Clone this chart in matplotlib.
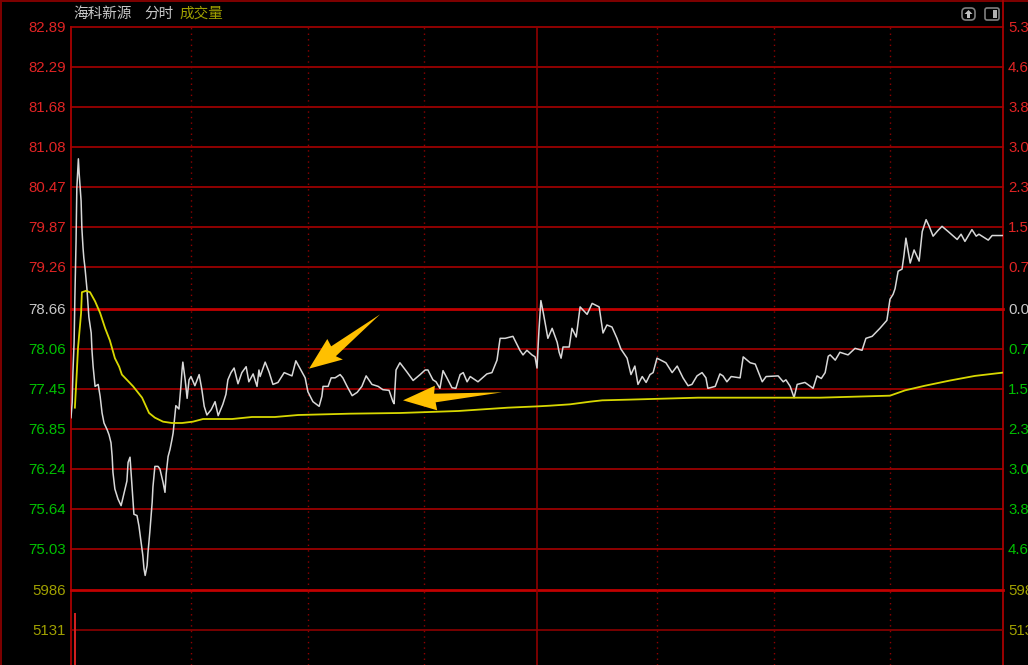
"""
Intraday price and average line with volume panel, dark terminal style
"""
import numpy as np
import matplotlib
matplotlib.use("Agg")
import matplotlib.pyplot as plt
from matplotlib.patches import FancyBboxPatch, Polygon, Rectangle

plt.rcParams["font.family"] = ["Liberation Sans", "Noto Sans CJK SC", "DejaVu Sans"]

# price axis rows, top to bottom
price_ticks = [82.89, 82.29, 81.68, 81.08, 80.47, 79.87, 79.26, 78.66,
               78.06, 77.45, 76.85, 76.24, 75.64, 75.03]
price_labels = ["82.89", "82.29", "81.68", "81.08", "80.47", "79.87", "79.26", "78.66",
                "78.06", "77.45", "76.85", "76.24", "75.64", "75.03"]
pct_labels = ["5.3", "4.6", "3.8", "3.0", "2.3", "1.5", "0.7", "0.0",
              "0.7", "1.5", "2.3", "3.0", "3.8", "4.6"]
price_floor = 74.41

vol_ticks = [5986, 5131]
vol_labels = ["5986", "5131"]
vol_labels_right = ["598", "513"]
vol_floor = 4383

half_hours = [31, 61, 91, 151, 181, 211]
noon = 120

price_min = [
    0.0, 0.3, 0.5, 0.8, 1.0, 1.3, 1.5, 1.9, 2.1, 2.6, 2.8, 3.1, 3.3, 3.6, 4.1, 4.6, 5.2, 5.4, 5.7, 6.2,
    7.0, 7.5, 8.0, 8.5, 9.3, 9.8, 10.3, 10.6, 10.8, 11.3, 12.1, 12.9, 13.6, 14.4, 14.7, 15.2, 15.7, 16.0, 16.2, 17.0,
    17.5, 18.0, 18.5, 18.8, 19.1, 19.6, 19.8, 20.3, 20.9, 21.1, 21.6, 22.4, 22.9, 23.7, 24.2, 24.5, 25.0, 25.5, 26.0, 26.3,
    26.8, 27.0, 27.8, 28.3, 28.6, 28.8, 29.4, 29.9, 30.4, 30.9, 31.9, 33.0, 33.7, 34.3, 35.0, 36.1, 37.1, 37.9, 39.1, 39.9,
    40.4, 41.2, 42.0, 43.0, 44.0, 45.1, 45.8, 46.9, 47.9, 48.4, 48.7, 50.0, 51.0, 52.0, 53.3, 54.9, 56.9, 57.9, 59.2, 60.3,
    61.0, 62.3, 63.9, 64.6, 64.9, 66.2, 67.0, 68.0, 69.3, 70.0, 71.1, 72.4, 73.7, 74.9, 76.0, 77.5, 79.1, 80.3, 81.9, 82.9,
    83.2, 83.7, 84.7, 86.5, 88.1, 89.9, 91.2, 91.9, 93.2, 94.0, 95.0, 95.8, 96.8, 98.1, 99.1, 100.2, 101.0, 102.0, 102.8, 104.8,
    107.1, 108.4, 109.7, 110.5, 111.8, 113.8, 115.6, 116.4, 117.4, 118.7, 119.5, 120.0, 120.5, 121.0, 121.6, 122.1, 122.8, 123.9, 125.2, 125.7,
    126.2, 126.7, 128.3, 129.0, 130.1, 131.1, 132.9, 134.2, 136.0, 137.0, 138.0, 139.3, 140.6, 141.6, 143.2, 144.2, 145.2, 146.0, 147.1, 148.1,
    149.1, 149.9, 150.9, 153.2, 154.8, 156.1, 157.6, 158.9, 159.9, 161.2, 162.5, 163.5, 164.0, 165.9, 167.1, 167.9, 168.9, 170.0, 172.3, 173.1,
    174.9, 176.2, 178.0, 179.0, 182.1, 183.4, 184.1, 185.2, 186.2, 187.0, 189.0, 191.1, 192.1, 193.2, 194.2, 195.0, 195.5, 196.8, 198.0, 200.1,
    201.9, 203.7, 204.7, 206.3, 208.3, 210.1, 210.9, 211.7, 212.2, 213.0, 214.0, 214.5, 215.0, 216.1, 217.1, 218.4, 219.2, 220.2, 221.0, 222.0,
    223.3, 224.3, 225.9, 228.2, 229.2, 230.2, 232.0, 233.1, 233.8, 236.2, 237.2, 240.0,
]
price = [
    77.02, 77.25, 77.71, 78.16, 78.83, 79.65, 80.45, 80.90, 80.68, 80.26, 79.85, 79.55, 79.40, 79.25, 78.95, 78.54, 78.30, 78.04, 77.79, 77.49,
    77.52, 77.34, 77.09, 76.94, 76.84, 76.76, 76.64, 76.43, 76.19, 75.94, 75.79, 75.69, 75.86, 76.06, 76.34, 76.42, 75.98, 75.71, 75.56, 75.54,
    75.38, 75.15, 74.93, 74.73, 74.63, 74.78, 74.96, 75.29, 75.74, 75.97, 76.28, 76.28, 76.24, 76.04, 75.89, 76.16, 76.43, 76.54, 76.69, 76.79,
    77.09, 77.20, 77.15, 77.49, 77.74, 77.86, 77.59, 77.31, 77.59, 77.64, 77.50, 77.67, 77.44, 77.19, 77.06, 77.14, 77.26, 77.05, 77.22, 77.37,
    77.59, 77.70, 77.77, 77.53, 77.70, 77.79, 77.56, 77.68, 77.49, 77.74, 77.64, 77.86, 77.71, 77.52, 77.55, 77.70, 77.65, 77.88, 77.74, 77.62,
    77.41, 77.26, 77.19, 77.34, 77.49, 77.49, 77.62, 77.62, 77.67, 77.62, 77.49, 77.35, 77.40, 77.49, 77.65, 77.52, 77.49, 77.44, 77.43, 77.26,
    77.23, 77.74, 77.85, 77.71, 77.58, 77.67, 77.74, 77.74, 77.59, 77.56, 77.46, 77.73, 77.62, 77.47, 77.46, 77.67, 77.70, 77.56, 77.64, 77.56,
    77.68, 77.70, 77.89, 78.22, 78.22, 78.25, 78.04, 77.97, 78.04, 77.97, 77.94, 77.77, 78.34, 78.78, 78.61, 78.45, 78.22, 78.37, 78.16, 78.01,
    77.92, 78.09, 78.09, 78.37, 78.24, 78.69, 78.58, 78.74, 78.69, 78.30, 78.42, 78.39, 78.22, 78.06, 77.92, 77.67, 77.80, 77.52, 77.64, 77.55,
    77.67, 77.70, 77.92, 77.85, 77.70, 77.80, 77.62, 77.50, 77.52, 77.65, 77.70, 77.62, 77.46, 77.49, 77.68, 77.65, 77.56, 77.64, 77.62, 77.94,
    77.85, 77.83, 77.56, 77.64, 77.65, 77.56, 77.59, 77.49, 77.32, 77.52, 77.55, 77.46, 77.65, 77.61, 77.70, 77.95, 77.97, 77.89, 78.01, 77.97,
    78.07, 78.04, 78.22, 78.25, 78.37, 78.49, 78.80, 78.87, 78.95, 79.20, 79.23, 79.44, 79.70, 79.32, 79.52, 79.35, 79.80, 79.98, 79.88, 79.73,
    79.82, 79.88, 79.80, 79.68, 79.76, 79.65, 79.83, 79.73, 79.76, 79.67, 79.74, 79.74,
]

avg_min = [1.0, 1.5, 1.8, 2.6, 2.8, 3.9, 4.9, 6.2, 7.5, 8.8, 10.0, 11.3, 12.4, 13.1, 16.0, 18.3, 20.1, 21.6, 23.7, 26.0,
           28.6, 31.4, 34.0, 41.5, 46.6, 52.5, 58.5, 71.9, 84.7, 99.7, 112.5, 120.3, 123.4, 128.5, 133.7, 136.8, 143.4,
           161.5, 192.9, 210.9, 214.8, 219.9, 226.4, 232.8, 240.0]
avg_price = [77.17, 77.71, 78.07, 78.60, 78.90, 78.92, 78.90, 78.77, 78.60, 78.37, 78.19, 77.92, 77.79, 77.67, 77.49, 77.32, 77.09, 77.02, 76.96, 76.94,
             76.94, 76.96, 77.00, 77.00, 77.03, 77.03, 77.06, 77.08, 77.09, 77.12, 77.17, 77.19, 77.20, 77.22, 77.26, 77.28, 77.29,
             77.32, 77.32, 77.35, 77.43, 77.50, 77.58, 77.65, 77.70]

vol_min = [1.0]
vol = [5495]

# hand drawn arrows, in minute / price
arrow1_min = [79.6, 67.0, 66.0, 61.3, 70.0, 68.2]
arrow1_price = [78.58, 78.10, 78.21, 77.76, 77.90, 77.95]
arrow2_min = [111.0, 93.5, 93.7, 85.5, 94.3, 93.9]
arrow2_price = [77.40, 77.38, 77.50, 77.28, 77.13, 77.25]

W, H = 1028, 665
LEFT, RIGHT = 71, 1003
TOP, SPLIT = 27, 590
GRID = "#a80000"
RED = "#e02424"
GREEN = "#00c000"
WHITE = "#c8c8c8"
OLIVE = "#a0a000"
TICK_PX = 15 * 72 / 100


# price rows are not quite evenly spaced, so the scale goes through them
scale_p = [price_floor] + price_ticks[::-1]
scale_h = [0, 41, 81, 121, 161, 201, 241, 281, 323, 363, 403, 443, 483, 523, 563]


def to_height(v):
    return np.interp(v, scale_p, scale_h)


def from_height(v):
    return np.interp(v, scale_h, scale_p)


def px_axes(x0, y0, x1, y1):
    return fig.add_axes([x0 / W, 1 - y1 / H, (x1 - x0) / W, (y1 - y0) / H])


def side_labels(axis, ticks, left, right, colors):
    tr = axis.get_yaxis_transform()
    for t, a, b, c in zip(ticks, left, right, colors):
        axis.annotate(a, (0, t), xycoords=tr, xytext=(-5, -1), textcoords="offset pixels",
                      ha="right", va="center", color=c, fontsize=TICK_PX, annotation_clip=False)
        axis.annotate(b, (1, t), xycoords=tr, xytext=(5, -1), textcoords="offset pixels",
                      ha="left", va="center", color=c, fontsize=TICK_PX, annotation_clip=False)


fig = plt.figure(figsize=(W / 100, H / 100), dpi=100, facecolor="black")

# chrome behind and around the panels
back = px_axes(0, 0, W, H)
back.set_xlim(0, W)
back.set_ylim(H, 0)
back.axis("off")
back.plot([1, 1], [0, H], color="#800000", lw=1.4)
back.plot([0, W], [1, 1], color="#800000", lw=1.4)
back.plot([LEFT, LEFT], [TOP, H], color=GRID, lw=1.3)
back.plot([RIGHT, RIGHT], [0, H], color=GRID, lw=1.3)
back.text(73, 14, "海科新源", color=WHITE, fontsize=10.5, va="center", family=["Noto Sans CJK SC"])
back.text(144, 14, "分时", color=WHITE, fontsize=10.5, va="center", family=["Noto Sans CJK SC"])
back.text(179, 14, "成交量", color=OLIVE, fontsize=10.5, va="center", family=["Noto Sans CJK SC"])

# the two small buttons top right
back.add_patch(FancyBboxPatch((962, 8), 13, 12, boxstyle="round,pad=0,rounding_size=4",
                              fc="none", ec="#808080", lw=1.2))
back.add_patch(Polygon([[968.5, 10], [964.5, 14], [972.5, 14]], fc="#c0c0c0", ec="none"))
back.add_patch(Rectangle((966.8, 14), 3.4, 4, fc="#c0c0c0", ec="none"))
back.add_patch(FancyBboxPatch((985, 8), 14, 12, boxstyle="round,pad=0,rounding_size=2",
                              fc="none", ec="#808080", lw=1.2))
back.add_patch(Rectangle((993, 10), 4, 8, fc="#b0b0b0", ec="none"))

# price panel
ax = px_axes(LEFT, TOP, RIGHT, SPLIT)
ax.patch.set_alpha(0)
ax.set_xlim(0, 240)
ax.set_yscale("function", functions=(to_height, from_height))
ax.set_ylim(price_floor, price_ticks[0])
ax.axis("off")

for t in price_ticks:
    ax.axhline(t, color="#c00000" if t == 78.66 else GRID, lw=2.0 if t == 78.66 else 1.2, zorder=1, clip_on=False)
ax.axhline(price_floor, color="#c00000", lw=2.0, zorder=1, clip_on=False)
for m in half_hours:
    ax.axvline(m, color="#900000", lw=1, ls=(0, (1, 3)), zorder=1)
ax.axvline(noon, color="#900000", lw=1.2, zorder=1)

ax.plot(price_min, price, color="#d8d8d8", lw=1.1, zorder=3)
ax.plot(avg_min, avg_price, color="#d8d800", lw=1.3, zorder=4)
ax.fill(arrow1_min, arrow1_price, color="#ffc000", lw=0, zorder=5)
ax.fill(arrow2_min, arrow2_price, color="#ffc000", lw=0, zorder=5)

row_colors = [RED] * 7 + [WHITE] + [GREEN] * 6
side_labels(ax, price_ticks, price_labels, pct_labels, row_colors)

# volume panel
vx = px_axes(LEFT, SPLIT, RIGHT, H)
vx.patch.set_alpha(0)
vx.set_xlim(0, 240)
vx.set_ylim(vol_floor, vol_ticks[0])
vx.axis("off")
vx.axhline(vol_ticks[1], color="#8c0000", lw=1.2, zorder=1)
vx.axvline(noon, color="#900000", lw=1.2, zorder=1)
for m in half_hours:
    vx.axvline(m, color="#900000", lw=1, ls=(0, (1, 3)), zorder=1)
vx.bar(vol_min, vol, width=0.4, color="#d02020", zorder=3)
side_labels(vx, vol_ticks, vol_labels, vol_labels_right, [OLIVE, OLIVE])

fig.savefig("out.png", dpi=100, facecolor="black")
